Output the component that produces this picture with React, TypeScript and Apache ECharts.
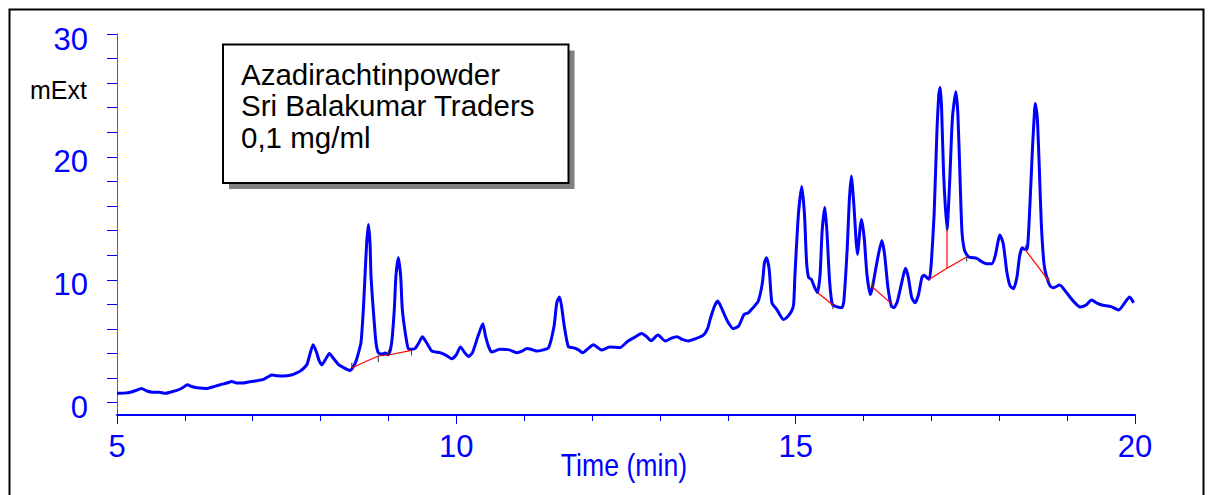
import React, { useEffect, useRef } from "react";
import * as echarts from "echarts";

// Chromatogram trace (time in min, absorbance in mExt)
const times = [
  5.0, 5.1, 5.2, 5.28, 5.36, 5.44, 5.52, 5.62, 5.71, 5.8, 5.88, 5.96, 6.04, 6.1, 6.18, 6.32, 6.45, 6.54, 6.62, 6.69,
  6.76, 6.85, 6.95, 7.03, 7.16, 7.24, 7.28, 7.36, 7.43, 7.5, 7.57, 7.64, 7.7, 7.76, 7.8, 7.84, 7.89, 7.94, 7.98, 8.02,
  8.07, 8.13, 8.19, 8.26, 8.34, 8.43, 8.49, 8.53, 8.56, 8.595, 8.63, 8.654, 8.679, 8.704, 8.728, 8.743, 8.776, 8.816, 8.85, 8.9,
  8.95, 9.0, 9.047, 9.086, 9.11, 9.145, 9.18, 9.204, 9.27, 9.3, 9.39, 9.45, 9.5, 9.56, 9.64, 9.76, 9.85, 9.93, 10.0, 10.06,
  10.12, 10.18, 10.24, 10.32, 10.39, 10.43, 10.48, 10.52, 10.64, 10.78, 10.89, 10.97, 11.04, 11.1, 11.18, 11.28, 11.36, 11.44, 11.48, 11.52,
  11.55, 11.59, 11.65, 11.72, 11.8, 11.86, 11.94, 12.02, 12.08, 12.14, 12.26, 12.41, 12.53, 12.62, 12.73, 12.8, 12.87, 12.97, 13.08, 13.17,
  13.25, 13.33, 13.42, 13.52, 13.64, 13.7, 13.74, 13.8, 13.85, 13.9, 13.96, 14.02, 14.08, 14.16, 14.24, 14.3, 14.35, 14.4, 14.45, 14.51,
  14.54, 14.57, 14.61, 14.65, 14.72, 14.82, 14.88, 14.94, 14.97, 14.99, 15.04, 15.09, 15.13, 15.16, 15.19, 15.23, 15.27, 15.32, 15.36, 15.39,
  15.43, 15.46, 15.5, 15.54, 15.6, 15.68, 15.71, 15.76, 15.79, 15.82, 15.86, 15.89, 15.91, 15.95, 15.97, 16.01, 16.05, 16.1, 16.13, 16.21,
  16.27, 16.31, 16.36, 16.41, 16.45, 16.5, 16.59, 16.62, 16.66, 16.71, 16.76, 16.81, 16.86, 16.89, 16.93, 16.97, 17.0, 17.04, 17.08, 17.11,
  17.13, 17.15, 17.18, 17.23, 17.27, 17.31, 17.36, 17.39, 17.42, 17.45, 17.49, 17.55, 17.67, 17.74, 17.82, 17.89, 17.94, 18.01, 18.06, 18.11,
  18.16, 18.21, 18.26, 18.3, 18.34, 18.38, 18.41, 18.45, 18.49, 18.52, 18.53, 18.56, 18.59, 18.62, 18.66, 18.7, 18.75, 18.8, 18.89, 18.99,
  19.09, 19.19, 19.28, 19.36, 19.44, 19.51, 19.65, 19.76, 19.85, 19.92, 19.98,
];
const values = [
  0.76, 0.78, 0.85, 1.0, 1.16, 0.95, 0.85, 0.85, 0.76, 0.88, 1.0, 1.2, 1.46, 1.32, 1.22, 1.16, 1.35, 1.49, 1.6, 1.73,
  1.6, 1.6, 1.7, 1.76, 1.9, 2.15, 2.25, 2.2, 2.17, 2.2, 2.25, 2.4, 2.57, 2.85, 3.12, 3.9, 4.72, 4.1, 3.4, 3.09,
  3.5, 4.01, 3.6, 3.12, 2.85, 2.63, 3.0, 3.52, 4.1, 4.89, 7.6, 10.3, 13.0, 14.5, 13.0, 10.3, 7.6, 4.9, 4.07, 3.95,
  4.05, 3.9, 4.89, 7.6, 10.3, 11.8, 10.3, 7.6, 4.89, 4.34, 4.4, 4.9, 5.37, 4.9, 4.2, 4.07, 3.85, 3.58, 3.9, 4.53,
  4.1, 3.75, 4.1, 5.42, 6.43, 5.42, 4.5, 4.12, 4.34, 4.3, 4.07, 4.2, 4.42, 4.35, 4.2, 4.3, 4.48, 6.24, 8.14, 8.6,
  7.87, 6.24, 4.56, 4.48, 4.3, 4.07, 4.4, 4.72, 4.5, 4.28, 4.53, 4.48, 5.02, 5.3, 5.64, 5.4, 5.05, 5.5, 5.02, 5.25,
  5.37, 5.15, 5.02, 5.2, 5.5, 6.0, 6.78, 7.8, 8.27, 7.8, 7.05, 6.4, 6.02, 6.24, 7.19, 7.3, 7.6, 7.9, 8.27, 9.77,
  11.4, 11.8, 10.85, 8.14, 7.6, 6.78, 7.0, 7.46, 8.0, 10.45, 15.3, 17.6, 15.3, 11.5, 10.2, 10.04, 9.5, 8.96, 10.45, 13.97,
  15.9, 13.97, 9.9, 8.0, 7.82, 7.73, 8.27, 12.6, 16.4, 18.45, 15.9, 13.2, 12.07, 14.25, 14.9, 13.4, 10.45, 8.8, 9.36, 11.8,
  13.2, 12.07, 9.36, 7.87, 7.73, 8.27, 10.45, 10.94, 10.2, 8.55, 8.14, 8.8, 10.2, 10.37, 10.2, 10.04, 11.5, 15.3, 21.85, 25.1,
  25.65, 24.0, 18.6, 14.1, 18.05, 23.2, 25.3, 23.5, 18.6, 13.97, 12.35, 11.86, 11.75, 11.48, 11.3, 11.3, 11.94, 13.65, 12.9, 10.7,
  9.5, 9.28, 10.2, 11.94, 12.6, 12.48, 12.48, 15.9, 20.8, 23.75, 24.35, 23.2, 19.1, 14.5, 11.26, 10.2, 9.5, 9.36, 9.58, 8.96,
  8.27, 7.79, 7.95, 8.36, 8.1, 7.95, 7.82, 7.54, 8.14, 8.6, 8.14,
];

// Integration baselines (red)
const baseline1 = [[8.46, 2.85], [8.85, 3.8], [9.0, 3.88], [9.34, 4.26]];
const baseline2 = [[15.32, 8.96], [15.55, 7.95]];
const baseline3 = [[16.13, 9.41], [16.41, 8.06]];
const baseline4 = [[16.97, 10.04], [17.23, 10.94], [17.52, 11.86]];
const dropLine4 = [[17.23, 10.94], [17.23, 14.1]];
const baseline5 = [[18.39, 12.4], [18.73, 9.9]];

// Peak start/end markers (short dark ticks)
const markTimes = [8.46, 8.85, 9.0, 9.34, 15.32, 15.55, 16.13, 16.41, 17.23, 17.52, 18.39, 18.73];
const markLow = [2.85, 3.3, 3.88, 3.85, 8.9, 7.6, 9.4, 7.7, 14.0, 11.5, 12.4, 9.8];
const markHigh = [3.25, 3.8, 4.3, 4.26, 9.4, 7.95, 9.9, 8.06, 14.5, 11.86, 12.85, 10.2];

const xTicks = [5, 10, 15, 20];
const yMajor = [0, 10, 20, 30];
const yMinor = [0, 2, 4, 6, 8, 10, 12, 14, 16, 18, 20, 22, 24, 26, 28, 30];

const legendLines = ["Azadirachtinpowder", "Sri Balakumar Traders", "0,1 mg/ml"];

const BLUE = "#0000ff";
const NARROW = '"Liberation Sans Narrow", "Arial Narrow", "Liberation Sans", Arial, sans-serif';
const SANS = '"Liberation Sans", Arial, sans-serif';

export default function App() {
  const ref = useRef<HTMLDivElement>(null);
  useEffect(() => {
    if (!ref.current) return;
    const chart = echarts.init(ref.current, undefined, { renderer: "svg" });
    const trace = times.map((t, i) => [t, values[i]]);
    const segs = [baseline1, baseline2, baseline3, baseline4, dropLine4, baseline5];
    const redSeries = segs.map((s) => ({
      type: "line",
      data: s,
      symbol: "none",
      silent: true,
      lineStyle: { color: "#ff0000", width: 1.2 },
      z: 3,
    }));
    const markSeries = markTimes.map((t, i) => ({
      type: "line",
      data: [
        [t, markLow[i]],
        [t, markHigh[i]],
      ],
      symbol: "none",
      silent: true,
      lineStyle: { color: "#333333", width: 1 },
      z: 3,
    }));
    chart.setOption({
      animation: false,
      backgroundColor: "#ffffff",
      grid: { left: 117, right: 73, top: 34, bottom: 80, containLabel: false },
      xAxis: {
        type: "value",
        min: 5,
        max: 20,
        interval: 5,
        axisLine: { show: true, onZero: false, lineStyle: { color: BLUE, width: 2 } },
        axisTick: { show: true, length: 9, lineStyle: { color: BLUE, width: 1 } },
        minorTick: { show: true, splitNumber: 5, length: 6, lineStyle: { color: BLUE, width: 1 } },
        splitLine: { show: false },
        minorSplitLine: { show: false },
        axisLabel: {
          color: BLUE,
          fontSize: 31,
          fontFamily: NARROW,
          margin: 16,
          customValues: xTicks,
        },
      },
      yAxis: {
        type: "value",
        min: -1,
        max: 30,
        axisLine: { show: true, onZero: false, lineStyle: { color: "#4d4dff", width: 1 } },
        axisTick: { show: true, length: 10, customValues: yMinor, lineStyle: { color: BLUE, width: 1 } },
        splitLine: { show: false },
        axisLabel: {
          color: BLUE,
          fontSize: 31,
          fontFamily: NARROW,
          margin: 29,
          customValues: yMajor,
          verticalAlign: "top",
          lineHeight: 10,
        },
      },
      series: [
        {
          type: "line",
          data: trace,
          symbol: "none",
          smooth: 0.2,
          silent: true,
          lineStyle: { color: BLUE, width: 3 },
          z: 2,
        },
        ...redSeries,
        ...markSeries,
      ],
      graphic: [
        {
          type: "rect",
          shape: { x: 9.5, y: 9.5, width: 1194, height: 500 },
          style: { fill: "none", stroke: "#000", lineWidth: 2 },
          silent: true,
          z: 0,
        },
        {
          type: "rect",
          shape: { x: 229, y: 50.5, width: 345.5, height: 138.5 },
          style: { fill: "#808080" },
          silent: true,
          z: 10,
        },
        {
          type: "rect",
          shape: { x: 223, y: 44.5, width: 345.5, height: 138.5 },
          style: { fill: "#fff", stroke: "#000", lineWidth: 2 },
          silent: true,
          z: 11,
        },
        ...legendLines.map((s, i) => ({
          type: "text",
          x: 241,
          y: 74 + i * 31.5,
          style: { text: s, font: `29.5px ${SANS}`, fill: "#000", verticalAlign: "middle", align: "left" },
          silent: true,
          z: 12,
        })),
        {
          type: "text",
          x: 30,
          y: 90,
          style: { text: "mExt", font: `25px ${SANS}`, fill: "#000", verticalAlign: "middle", align: "left" },
          silent: true,
          z: 12,
        },
        {
          type: "text",
          x: 624,
          y: 465,
          scaleX: 0.86,
          style: { text: "Time (min)", font: `31px ${NARROW}`, fill: BLUE, verticalAlign: "middle", align: "center" },
          silent: true,
          z: 12,
        },
      ],
    });
    return () => chart.dispose();
  }, []);
  return (
    <div
      ref={ref}
      style={{ position: "absolute", left: 0, top: 0, width: 1208, height: 495, background: "#fff" }}
    />
  );
}
